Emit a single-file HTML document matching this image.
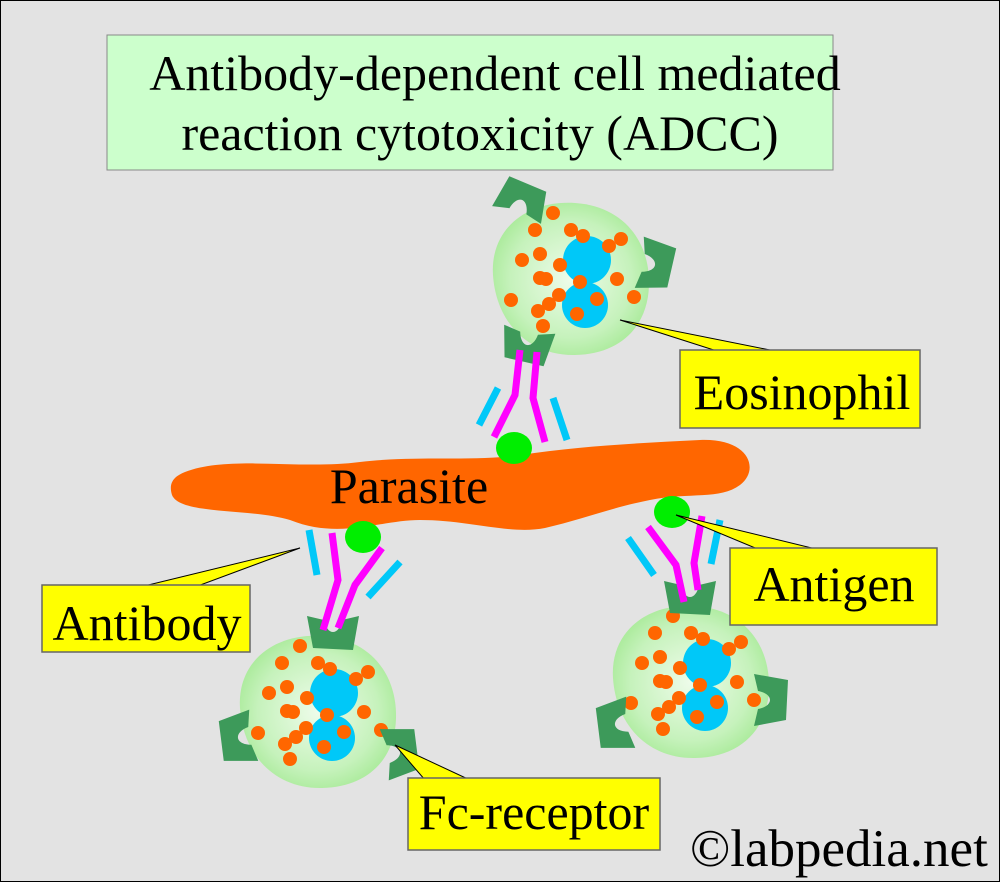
<!DOCTYPE html>
<html><head><meta charset="utf-8"><style>
html,body{margin:0;padding:0;background:#e3e3e3}
svg{display:block}
text{font-family:"Liberation Serif",serif;fill:#000}
</style></head><body>
<svg width="1000" height="882" viewBox="0 0 1000 882" xmlns="http://www.w3.org/2000/svg">
<defs>
<radialGradient id="cg" cx="50%" cy="50%" r="55%">
<stop offset="0" stop-color="#eefcea"/><stop offset="0.7" stop-color="#c6f2bc"/><stop offset="1" stop-color="#a8ea98"/>
</radialGradient>
<g id="cell">
<path d="M-77,-5 C-80,-52 -42,-80 5,-77 C52,-74 80,-40 79,5 C78,45 52,74 5,75 C-42,76 -74,42 -77,-5Z" fill="url(#cg)"/>
<circle cx="17" cy="-20" r="24" fill="#00c8f8"/>
<circle cx="15" cy="25" r="23" fill="#00c8f8"/>
<g fill="#ff6600">
<circle cx="-17" cy="-67" r="7"/><circle cx="-35" cy="-50" r="7"/><circle cx="1" cy="-50" r="7"/><circle cx="13" cy="-44" r="7"/>
<circle cx="39" cy="-34" r="7"/><circle cx="51" cy="-41" r="7"/><circle cx="-48" cy="-20" r="7"/><circle cx="-30" cy="-26" r="7"/>
<circle cx="-10" cy="-15" r="7"/><circle cx="-30" cy="-2" r="7"/><circle cx="-24" cy="-1" r="7"/><circle cx="10" cy="2" r="7"/>
<circle cx="47" cy="-1" r="7"/><circle cx="64" cy="17" r="7"/><circle cx="-59" cy="20" r="7"/><circle cx="-11" cy="15" r="7"/>
<circle cx="-21" cy="24" r="7"/><circle cx="-32" cy="31" r="7"/><circle cx="27" cy="19" r="7"/><circle cx="-27" cy="46" r="7"/><circle cx="7" cy="34" r="7"/>
</g>
</g>
<path id="rec" d="M-26,-16 L-20,16 L20,18 L26,-16 L9,-12 C6,4 -6,4 -9,-12Z" fill="#3d9a5a"/>
</defs>
<rect x="0.5" y="0.5" width="999" height="881" fill="#e3e3e3" stroke="#000"/>
<rect x="107" y="35" width="726" height="135" fill="#ccffcc" stroke="#888"/>
<text x="495" y="90" font-size="50" text-anchor="middle">Antibody-dependent cell mediated</text>
<text x="480" y="150" font-size="50" text-anchor="middle">reaction cytotoxicity (ADCC)</text>

<!-- parasite -->
<path d="M185,472 C230,455 300,470 360,462 C420,455 470,462 520,455 C580,446 640,443 700,440 C750,438 760,470 740,485 C720,500 690,492 650,500 C610,508 580,520 545,528 C510,535 470,520 420,520 C380,520 340,540 290,520 C250,508 180,515 172,495 C168,482 175,476 185,472Z" fill="#ff6600"/>
<text x="409" y="503" font-size="50" text-anchor="middle">Parasite</text>

<!-- cells -->
<use href="#cell" transform="translate(570,280)"/>
<use href="#rec" transform="translate(522,200) rotate(200)"/>
<use href="#rec" transform="translate(655,265) rotate(-80)"/>
<use href="#rec" transform="translate(527,345) rotate(10)"/>
<use href="#cell" transform="translate(317,713)"/>
<use href="#rec" transform="translate(333,632) rotate(0)"/>
<use href="#rec" transform="translate(238,738) rotate(80)"/>
<use href="#rec" transform="translate(400,752) rotate(-100)"/>
<use href="#cell" transform="translate(690,683)"/>
<use href="#rec" transform="translate(690,597) rotate(0)"/>
<use href="#rec" transform="translate(615,725) rotate(80)"/>
<use href="#rec" transform="translate(770,700) rotate(-90)"/>

<!-- antibodies -->
<g fill="none" stroke-width="7" stroke-linejoin="miter">
<polyline points="520,350 515,395 494,437" stroke="#ff00ff"/>
<polyline points="537,352 533,398 545,442" stroke="#ff00ff"/>
<line x1="498" y1="388" x2="479" y2="425" stroke="#00c8f8"/>
<line x1="553" y1="398" x2="567" y2="440" stroke="#00c8f8"/>
<polyline points="332,533 338,580 323,630" stroke="#ff00ff"/>
<polyline points="382,548 355,585 338,628" stroke="#ff00ff"/>
<line x1="309" y1="530" x2="317" y2="575" stroke="#00c8f8"/>
<line x1="400" y1="562" x2="368" y2="597" stroke="#00c8f8"/>
<polyline points="648,527 676,565 684,602" stroke="#ff00ff"/>
<polyline points="702,516 694,563 698,590" stroke="#ff00ff"/>
<line x1="628" y1="538" x2="654" y2="575" stroke="#00c8f8"/>
<line x1="720" y1="520" x2="711" y2="564" stroke="#00c8f8"/>
</g>
<ellipse cx="514" cy="448" rx="18" ry="16" fill="#00ee00"/>
<ellipse cx="363" cy="537" rx="18" ry="16" fill="#00ee00"/>
<ellipse cx="672" cy="512" rx="18" ry="16" fill="#00ee00"/>

<!-- callouts -->
<g fill="#ffff00" stroke="#000" stroke-width="1">
<polygon points="620,320 720,352 780,352"/>
<polygon points="676,515 760,550 820,550"/>
<polygon points="300,548 140,587 195,587"/>
<polygon points="395,745 425,780 470,780"/>
</g>
<g fill="#ffff00" stroke="#666" stroke-width="1.5">
<rect x="680" y="350" width="240" height="78"/>
<rect x="730" y="548" width="207" height="77"/>
<rect x="42" y="585" width="208" height="67"/>
<rect x="408" y="778" width="252" height="72"/>
</g>
<text x="802" y="409" font-size="50" text-anchor="middle">Eosinophil</text>
<text x="834" y="601" font-size="50" text-anchor="middle">Antigen</text>
<text x="147" y="640" font-size="50" text-anchor="middle">Antibody</text>
<text x="534" y="829" font-size="50" text-anchor="middle">Fc-receptor</text>
<text x="690" y="866" font-size="53">©labpedia.net</text>
</svg>
</body></html>
